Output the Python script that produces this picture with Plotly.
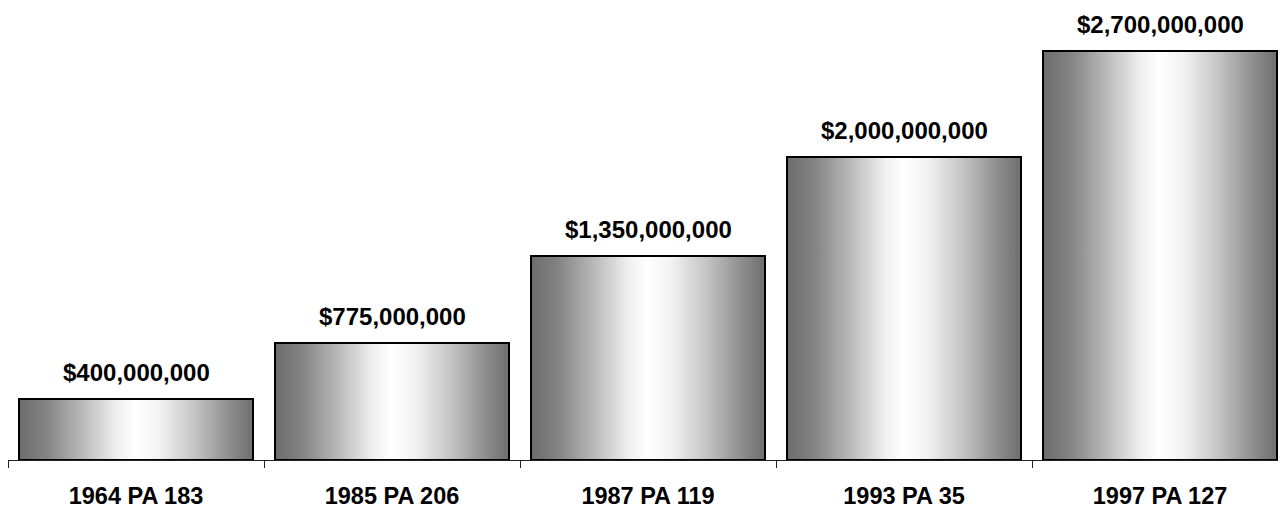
import plotly.graph_objects as go

categories = ["1964 PA 183", "1985 PA 206", "1987 PA 119", "1993 PA 35", "1997 PA 127"]
values = [400_000_000, 775_000_000, 1_350_000_000, 2_000_000_000, 2_700_000_000]
value_labels = ["$400,000,000", "$775,000,000", "$1,350,000,000", "$2,000,000,000", "$2,700,000,000"]

BAR_W = 0.914
FONT = "Liberation Sans, Arial, sans-serif"
GRAD = [[0.0, "#6c6c6c"], [0.12, "#848484"], [0.28, "#bdbdbd"], [0.42, "#f0f0f0"],
        [0.5, "#ffffff"], [0.6, "#f2f2f2"], [0.75, "#c4c4c4"], [0.9, "#8e8e8e"], [1.0, "#6e6e6e"]]

fig = go.Figure()
xs = list(range(len(categories)))

# gradient fills, built from the data values
for i, v in zip(xs, values):
    x0, x1 = i - BAR_W / 2, i + BAR_W / 2
    fig.add_trace(go.Scatter(
        x=[x0, x1, x1, x0, x0], y=[0, 0, v, v, 0],
        mode="lines", line=dict(width=0, color="rgba(0,0,0,0)"),
        fill="toself",
        fillgradient=dict(type="horizontal", colorscale=GRAD),
        hoverinfo="skip", showlegend=False,
    ))

# the bars themselves (outline), drawn on an overlaying axis pair
fig.add_trace(go.Bar(
    x=xs, y=values, width=BAR_W, xaxis="x2", yaxis="y2",
    marker=dict(color="rgba(0,0,0,0)", line=dict(color="#000000", width=2)),
    showlegend=False, hoverinfo="skip",
))

XR = [-0.5, 4.492]
YR = [0, 2.985e9]

for i, (v, t) in enumerate(zip(values, value_labels)):
    fig.add_annotation(x=i, y=v, xref="x", yref="y", text=t, showarrow=False,
                       yanchor="bottom", yshift=11,
                       font=dict(family=FONT, size=24, color="#000000", weight="bold"))

fig.update_layout(
    width=1278, height=498,
    margin=dict(l=0, r=0, t=0, b=46, autoexpand=False),
    paper_bgcolor="white", plot_bgcolor="white",
    xaxis=dict(range=XR, tickvals=xs, ticktext=categories, ticks="",
               showline=True, linecolor="#222222", linewidth=1, automargin=False,
               showgrid=False, zeroline=False, ticklabelstandoff=15,
               tickfont=dict(family=FONT, size=23.5, color="#000000", weight="bold"),
               minor=dict(tick0=-0.5, dtick=1, ticks="outside", ticklen=7,
                          tickcolor="#222222", tickwidth=1, showgrid=False)),
    yaxis=dict(range=YR, visible=False, showgrid=False, zeroline=False),
    xaxis2=dict(range=XR, overlaying="x", visible=False, showgrid=False, zeroline=False),
    yaxis2=dict(range=YR, overlaying="y", visible=False, showgrid=False, zeroline=False),
    bargap=0,
)

fig.write_html("out.html")
